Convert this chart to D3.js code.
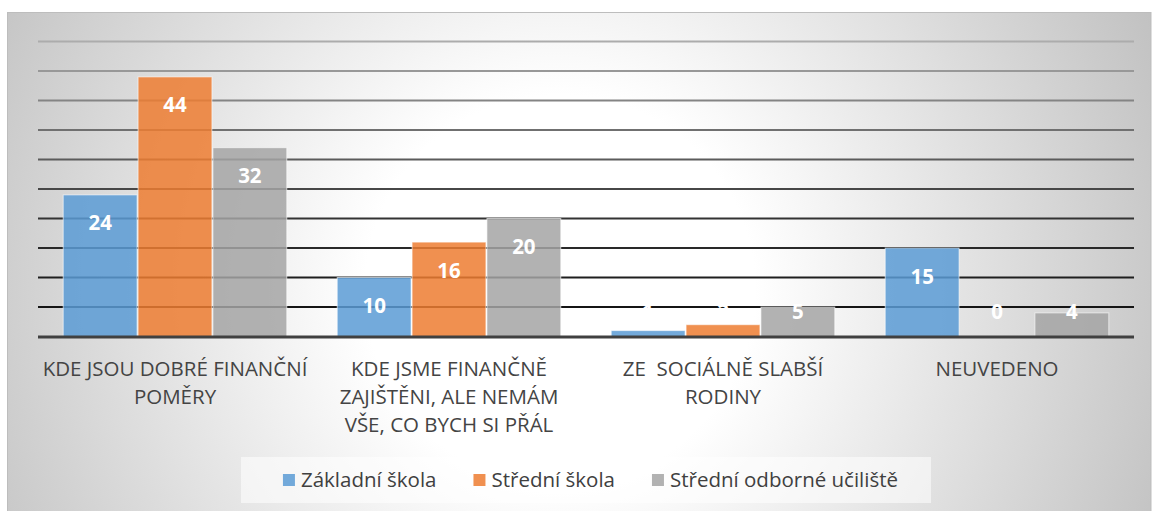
<!DOCTYPE html>
<html>
<head>
<meta charset="utf-8">
<script src="https://cdn.jsdelivr.net/npm/d3@7"></script>
<style>
  html, body { margin: 0; padding: 0; background: #ffffff; }
  svg { display: block; }
  text { font-family: "Open Sans", "Noto Sans", sans-serif; }
</style>
</head>
<body>
<svg id="chart" width="1152" height="511"></svg>
<script>
// ---- data ----
const categories = [
  "KDE JSOU DOBRÉ FINANČNÍ POMĚRY",
  "KDE JSME FINANČNĚ ZAJIŠTĚNI, ALE NEMÁM VŠE, CO BYCH SI PŘÁL",
  "ZE  SOCIÁLNĚ SLABŠÍ RODINY",
  "NEUVEDENO"
];
const categoryLines = [
  ["KDE JSOU DOBRÉ FINANČNÍ", "POMĚRY"],
  ["KDE JSME FINANČNĚ", "ZAJIŠTĚNI, ALE NEMÁM", "VŠE, CO BYCH SI PŘÁL"],
  ["ZE  SOCIÁLNĚ SLABŠÍ", "RODINY"],
  ["NEUVEDENO"]
];
const seriesNames = ["Základní škola", "Střední škola", "Střední odborné učiliště"];
const zakladni = [24, 10, 1, 15];
const stredni = [44, 16, 2, 0];
const ucebni = [32, 20, 5, 4];
const seriesValues = [zakladni, stredni, ucebni];
const seriesColors = ["#5b9bd5", "#ed7d31", "#a5a5a5"];
const yTicks = [5, 10, 15, 20, 25, 30, 35, 40, 45, 50];

// ---- layout ----
const svg = d3.select("#chart");
const defs = svg.append("defs");

const bg = defs.append("radialGradient")
  .attr("id", "bgGrad").attr("gradientUnits", "userSpaceOnUse")
  .attr("cx", 560).attr("cy", 290).attr("r", 650);
bg.append("stop").attr("offset", "0").attr("stop-color", "#ffffff");
bg.append("stop").attr("offset", "0.3").attr("stop-color", "#ffffff");
bg.append("stop").attr("offset", "1").attr("stop-color", "#c2c2c2");

// panel background
svg.append("rect")
  .attr("x", 7.5).attr("y", 12.5).attr("width", 1143.5).attr("height", 500)
  .attr("fill", "url(#bgGrad)")
  .attr("stroke", "#bdbdbd").attr("stroke-width", 1);

const plotLeft = 38, plotRight = 1134;
const x = d3.scaleBand().domain(categories).range([plotLeft, plotRight]).padding(0);
const xs = d3.scaleBand().domain(d3.range(seriesNames.length))
  .range([0, x.bandwidth()]).paddingInner(0).paddingOuter(0.33);
const y = d3.scaleLinear().domain([0, 50]).range([336.5, 41.5]);

// gridline shade: darker toward the bottom, lighter toward the top
const gridShade = d3.scaleLinear().domain([5, 20, 50])
  .range(["#151515", "#333333", "#acacac"]);

svg.append("g").selectAll("line").data(yTicks).join("line")
  .attr("x1", plotLeft).attr("x2", plotRight)
  .attr("y1", d => y(d)).attr("y2", d => y(d))
  .attr("stroke", d => gridShade(d)).attr("stroke-width", 2);

// bars
const groups = svg.append("g").selectAll("g").data(categories).join("g")
  .attr("transform", d => `translate(${x(d)},0)`);

groups.selectAll("rect")
  .data((c, ci) => seriesValues.map((vals, si) => ({ si, v: vals[ci] })))
  .join("rect")
  .attr("x", d => xs(d.si) + 0.5)
  .attr("width", xs.bandwidth() - 1)
  .attr("y", d => y(d.v))
  .attr("height", d => y(0) - y(d.v))
  .attr("fill", d => seriesColors[d.si])
  .attr("fill-opacity", 0.85)
  .attr("stroke", "#ffffff").attr("stroke-opacity", 0.6).attr("stroke-width", 1);

// baseline
svg.append("line")
  .attr("x1", plotLeft).attr("x2", plotRight)
  .attr("y1", y(0) + 0.5).attr("y2", y(0) + 0.5)
  .attr("stroke", "#404040").attr("stroke-width", 3);

// data labels
groups.selectAll("text.val")
  .data((c, ci) => seriesValues.map((vals, si) => ({ si, v: vals[ci] })))
  .join("text").attr("class", "val")
  .attr("x", d => xs(d.si) + xs.bandwidth() / 2)
  .attr("y", d => Math.min(y(d.v) + 35.5, 319))
  .attr("text-anchor", "middle")
  .attr("font-size", 20.5).attr("font-weight", "bold")
  .attr("fill", "#ffffff")
  .text(d => d.v);

// category labels
const catText = svg.append("g").selectAll("text").data(categories).join("text")
  .attr("text-anchor", "middle")
  .attr("font-size", 20.5)
  .attr("fill", "#444444")
  .style("white-space", "pre");
catText.each(function (d, i) {
  const t = d3.select(this);
  categoryLines[i].forEach((line, li) => {
    t.append("tspan")
      .attr("x", x(d) + x.bandwidth() / 2)
      .attr("y", 375.7 + li * 28.3)
      .text(line);
  });
});

// legend
svg.append("rect")
  .attr("x", 241).attr("y", 457).attr("width", 690).attr("height", 46)
  .attr("fill", "#ffffff").attr("fill-opacity", 0.55);

const legend = svg.append("g");
const items = legend.selectAll("g").data(seriesNames).join("g");
items.append("rect")
  .attr("width", 12).attr("height", 12)
  .attr("y", 474)
  .attr("fill", (d, i) => seriesColors[i]).attr("fill-opacity", 0.85);
items.append("text")
  .attr("y", 486.7)
  .attr("font-size", 20.5)
  .attr("fill", "#404040")
  .text(d => d);

const widths = [];
items.select("text").each(function () { widths.push(this.getComputedTextLength()); });
const sq = 12, gapSq = 6, gapItem = 37;
const total = d3.sum(widths) + seriesNames.length * (sq + gapSq) + gapItem * (seriesNames.length - 1);
let cx = 590.5 - total / 2;
items.each(function (d, i) {
  const g = d3.select(this);
  g.select("rect").attr("x", cx);
  g.select("text").attr("x", cx + sq + gapSq);
  cx += sq + gapSq + widths[i] + gapItem;
});
</script>
</body>
</html>
